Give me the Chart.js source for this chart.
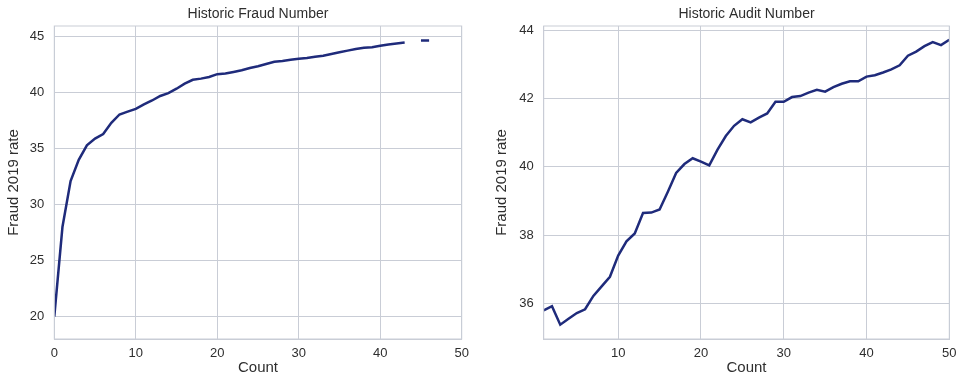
<!DOCTYPE html>
<html>
<head>
<meta charset="utf-8">
<script src="https://cdn.jsdelivr.net/npm/chart.js@4"></script>
<style>
  body { margin: 0; background: #fff; overflow: hidden; }
  #wrap { position: relative; width: 957px; height: 380px; overflow: hidden; }
  canvas { position: absolute; top: 0; }
</style>
</head>
<body>
<div id="wrap">
  <canvas id="fraud" width="478" height="380" style="left:0"></canvas>
  <canvas id="audit" width="500" height="380" style="left:478px"></canvas>
</div>
<script>
// dados
const fraudCounts = [0, 1, 2, 3, 4, 5, 6, 7, 8, 9, 10, 11, 12, 13, 14, 15, 16, 17, 18, 19, 20,
  21, 22, 23, 24, 25, 26, 27, 28, 29, 30, 31, 32, 33, 34, 35, 36, 37, 38, 39, 40,
  41, 42, 43, 44, 45, 46];
const fraudRates = [20.0, 28.0, 32.1, 34.0, 35.3, 35.9, 36.3, 37.3, 38.05, 38.3, 38.55,
  38.95, 39.3, 39.7, 39.95, 40.35, 40.8, 41.15, 41.25, 41.4, 41.65,
  41.7, 41.85, 42.0, 42.2, 42.35, 42.55, 42.75, 42.82, 42.93, 43.02,
  43.1, 43.2, 43.3, 43.45, 43.6, 43.75, 43.9, 44.0, 44.06, 44.18,
  44.3, 44.38, 44.47, null, 44.65, 44.65];

const auditCounts = [1, 2, 3, 4, 5, 6, 7, 8, 9, 10, 11, 12, 13, 14, 15, 16, 17, 18, 19, 20,
  21, 22, 23, 24, 25, 26, 27, 28, 29, 30, 31, 32, 33, 34, 35, 36, 37, 38, 39, 40,
  41, 42, 43, 44, 45, 46, 47, 48, 49, 50];
const auditRates = [35.8, 35.92, 35.38, 35.55, 35.72, 35.83, 36.22, 36.5, 36.78, 37.4,
  37.82, 38.05, 38.65, 38.66, 38.75, 39.27, 39.82, 40.08, 40.25, 40.15,
  40.04, 40.5, 40.9, 41.2, 41.39, 41.3, 41.44, 41.56, 41.9, 41.9,
  42.04, 42.07, 42.17, 42.25, 42.2, 42.33, 42.43, 42.5, 42.5, 42.64,
  42.68, 42.76, 42.85, 42.97, 43.25, 43.37, 43.53, 43.65, 43.56, 43.72];

const xTicks = [0, 10, 20, 30, 40, 50];
const fraudYTicks = [20, 25, 30, 35, 40, 45];
const auditYTicks = [36, 38, 40, 42, 44];

const FONT = '"Liberation Sans", Arial, sans-serif';
const TEXT = '#2e2e2e';
const GRID = '#c9cdd6';
const LINE = '#1f2b7b';

// moldura completa da área do gráfico (estilo seaborn whitegrid)
const frame = {
  id: 'frame',
  afterDraw(chart) {
    const a = chart.chartArea;
    const c = chart.ctx;
    c.save();
    c.strokeStyle = GRID;
    c.lineWidth = 1;
    c.strokeRect(a.left, a.top, a.right - a.left, a.bottom - a.top);
    c.restore();
  }
};

function montar(id, titulo, xs, ys, opt) {
  const pts = xs.map((x, i) => ({ x: x, y: ys[i] }));
  return new Chart(document.getElementById(id), {
    type: 'line',
    data: {
      datasets: [{
        data: pts,
        borderColor: LINE,
        borderWidth: 2.5,
        pointRadius: 0,
        tension: 0,
        spanGaps: false
      }]
    },
    options: {
      responsive: false,
      animation: false,
      devicePixelRatio: 1,
      layout: { padding: { left: 0, right: opt.padRight, top: 0, bottom: 0 } },
      plugins: {
        legend: { display: false },
        tooltip: { enabled: false },
        title: {
          display: true,
          text: titulo,
          fullSize: false,
          color: TEXT,
          font: { family: FONT, size: 14, weight: 'normal' },
          padding: { top: 6, bottom: 3.2 }
        }
      },
      scales: {
        x: {
          type: 'linear',
          min: opt.xMin,
          max: 50,
          afterBuildTicks: s => { s.ticks = xTicks.filter(v => v >= opt.xMin).map(v => ({ value: v })); },
          afterFit: s => { s.height = 41; },
          grid: { color: GRID, drawTicks: false },
          border: { color: GRID },
          ticks: {
            color: TEXT, padding: 7, maxRotation: 0, autoSkip: false,
            font: { family: FONT, size: 13 }
          },
          title: {
            display: true, text: 'Count', color: TEXT,
            font: { family: FONT, size: 15 },
            padding: { top: 0, bottom: 3 }
          }
        },
        y: {
          min: opt.yMin,
          max: opt.yMax,
          afterBuildTicks: s => { s.ticks = opt.yTicks.map(v => ({ value: v })); },
          afterFit: s => { s.width = opt.yWidth; },
          grid: { color: GRID, drawTicks: false },
          border: { color: GRID },
          ticks: {
            color: TEXT, padding: 10,
            font: { family: FONT, size: 13 }
          },
          title: {
            display: true, text: 'Fraud 2019 rate', color: TEXT,
            font: { family: FONT, size: 15 },
            padding: { top: opt.yTitlePad, bottom: 0 }
          }
        }
      }
    },
    plugins: [frame]
  });
}

montar('fraud', 'Historic Fraud Number', fraudCounts, fraudRates, {
  xMin: 0, yMin: 18, yMax: 45.95, yTicks: fraudYTicks,
  yWidth: 54.3, padRight: 16.3, yTitlePad: 5
});

// canvas da direita mais largo que a janela: a área útil termina em x≈949
montar('audit', 'Historic Audit Number', auditCounts, auditRates, {
  xMin: 1, yMin: 34.96, yMax: 44.12, yTicks: auditYTicks,
  yWidth: 65.7, padRight: 28.7, yTitlePad: 15
});
</script>
</body>
</html>
